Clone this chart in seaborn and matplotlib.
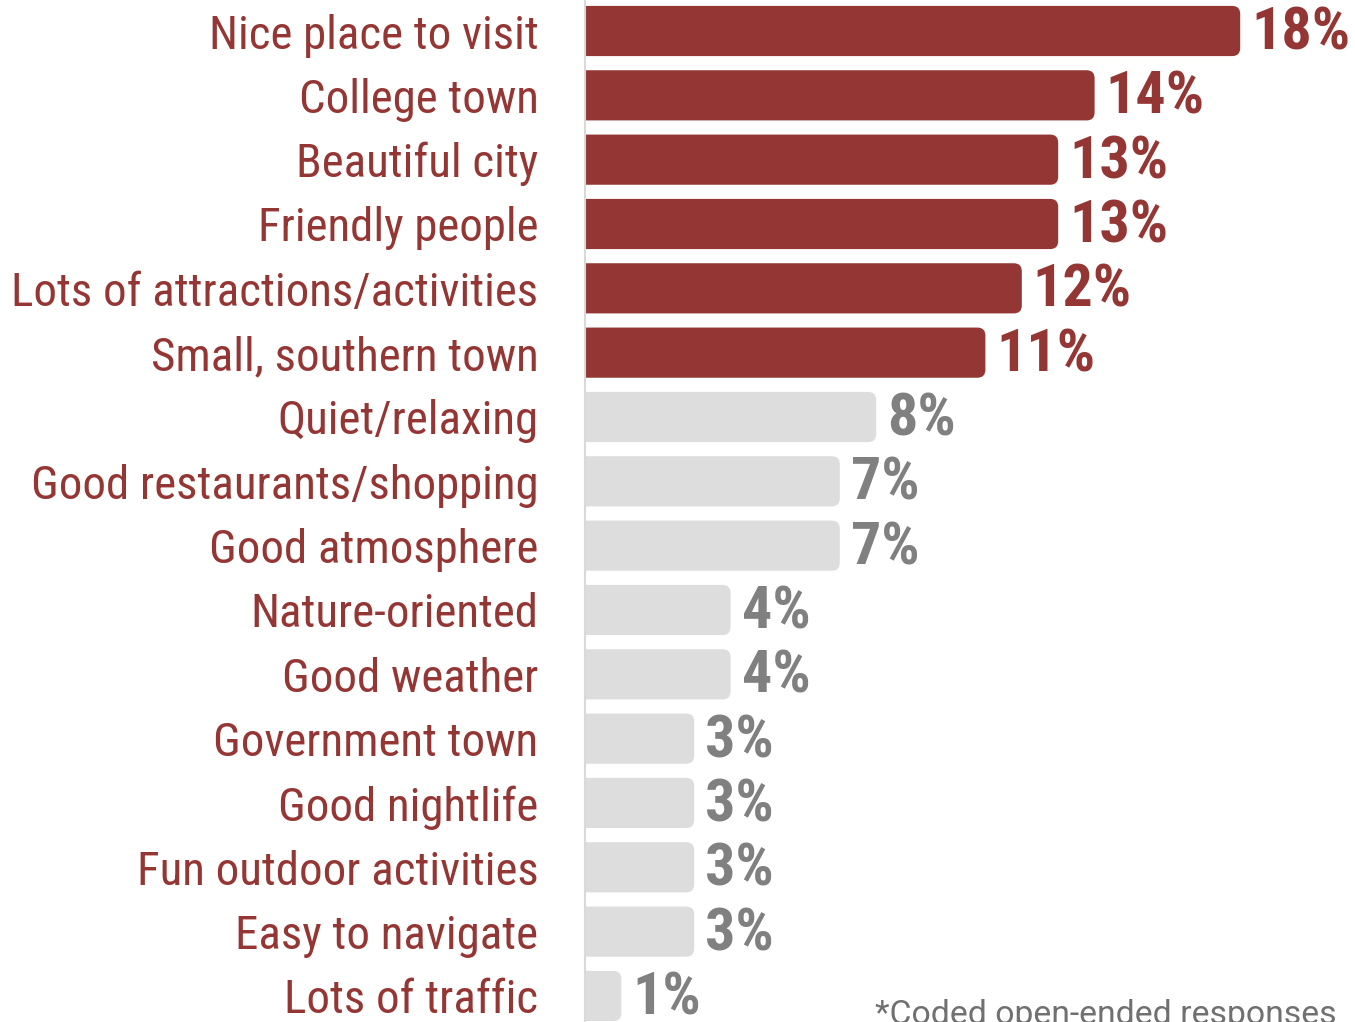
import matplotlib
matplotlib.use("Agg")
import matplotlib.pyplot as plt
from matplotlib import font_manager as fm
from matplotlib.font_manager import FontProperties
from matplotlib.patches import FancyBboxPatch
import seaborn as sns
import pandas as pd

# Survey answers and their shares (percent)
categories = [
    "Nice place to visit", "College town", "Beautiful city", "Friendly people",
    "Lots of attractions/activities", "Small, southern town", "Quiet/relaxing",
    "Good restaurants/shopping", "Good atmosphere", "Nature-oriented",
    "Good weather", "Government town", "Good nightlife", "Fun outdoor activities",
    "Easy to navigate", "Lots of traffic",
]
shares = [18, 14, 13, 13, 12, 11, 8, 7, 7, 4, 4, 3, 3, 3, 3, 1]
highlight_count = 6
footnote = "*Coded open-ended responses"

RED = "#943634"
GRAY_BAR = "#DDDDDD"
GRAY_TEXT = "#808080"

sns.set_theme(style="white")
plt.rcParams["font.family"] = ["DejaVu Sans"]


def narrow_font(bold):
    """Pick an installed narrow sans face, falling back to DejaVu Sans."""
    family_order = ["Roboto Condensed", "Liberation Sans Narrow", "Arial Narrow",
                    "Noto Sans", "Open Sans", "DejaVu Sans", "Lato", "Inter", "Roboto"]
    stretch_order = ["condensed", "semi-condensed", "extra-condensed"]
    best, best_key = None, None
    for fe in fm.fontManager.ttflist:
        fname = fe.fname
        narrow = ("Narrow" in fname or "Condensed" in fname or "Cond" in fname
                  or fe.stretch in stretch_order)
        if not narrow or fe.style != "normal":
            continue
        w = fe.weight if isinstance(fe.weight, int) else (700 if "bold" in str(fe.weight) else 400)
        if bold and w < 600:
            continue
        if not bold and (w >= 600 or w < 350):
            continue
        fam_rank = family_order.index(fe.name) if fe.name in family_order else len(family_order)
        st = fe.stretch if fe.stretch in stretch_order else "condensed"
        key = (fam_rank, stretch_order.index(st), abs(w - (700 if bold else 400)))
        if best_key is None or key < best_key:
            best, best_key = fname, key
    if best is None:
        return FontProperties(family="DejaVu Sans", weight="bold" if bold else "normal")
    return FontProperties(fname=best)


label_font = narrow_font(bold=False)
value_font = narrow_font(bold=True)
note_font = FontProperties(family=["Roboto", "DejaVu Sans"])

df = pd.DataFrame({"category": categories, "share": shares})
bar_colors = [RED if i < highlight_count else GRAY_BAR for i in range(len(categories))]

W, H, DPI = 1355, 1022, 100
fig = plt.figure(figsize=(W / DPI, H / DPI), dpi=DPI)
ax = fig.add_axes([585 / W, 0, (W - 585) / W, 1])

sns.barplot(data=df, y="category", x="share", orient="h", ax=ax,
            palette=bar_colors, hue="category", legend=False,
            width=0.78, saturation=1)

px_per_unit_x = 36.4
row_px = 64.33
ax.set_xlim(0, (W - 585) / px_per_unit_x)
ax.set_ylim((H - 31) / row_px, -31 / row_px)

# Swap the square bars for ones with rounded right ends
radius = 8 / px_per_unit_x
aspect = px_per_unit_x / row_px
for patch, color in zip(list(ax.patches), bar_colors):
    x0, y0 = patch.get_x(), patch.get_y()
    w, h = patch.get_width(), patch.get_height()
    patch.set_visible(False)
    rounded = FancyBboxPatch((x0 - 0.5, y0), w + 0.5, h,
                             boxstyle=f"round,pad=0,rounding_size={radius}",
                             mutation_aspect=aspect, facecolor=color,
                             edgecolor="none", linewidth=0, zorder=2)
    ax.add_patch(rounded)

ax.set_xlabel("")
ax.set_ylabel("")
ax.set_xticks([])
ax.tick_params(axis="y", length=0, pad=33.5, labelcolor=RED)
for s in ["top", "right", "bottom"]:
    ax.spines[s].set_visible(False)
ax.spines["left"].set_color("#D9D9D9")
ax.spines["left"].set_linewidth(1.5)

renderer = fig.canvas.get_renderer()


def fit_size(text_obj, target_px, size_guess):
    text_obj.set_fontsize(size_guess)
    width = text_obj.get_window_extent(renderer).width
    return size_guess * target_px / width


# Category labels, sized so the longest one spans its width
ticklabels = ax.get_yticklabels()
probe = fig.text(0, 0, "Lots of attractions/activities", fontproperties=label_font)
label_size = fit_size(probe, 527, 34)
probe.remove()
for t in ticklabels:
    t.set_fontproperties(label_font)
    t.set_fontsize(label_size)
    t.set_color(RED)

# Value labels
probe = fig.text(0, 0, "18%", fontproperties=value_font)
value_size = fit_size(probe, 99, 37)
probe.remove()
for i, v in enumerate(shares):
    c = RED if i < highlight_count else GRAY_TEXT
    ax.text(v + 11 / px_per_unit_x, i + 0.04, f"{v}%", ha="left", va="center",
            fontproperties=value_font, fontsize=value_size, color=c)

note = fig.text(875 / W, -2 / H, footnote, ha="left", va="baseline",
                fontproperties=note_font, color="#707070")
note.set_fontsize(fit_size(note, 460, 24))

fig.savefig("out.png", dpi=DPI)
